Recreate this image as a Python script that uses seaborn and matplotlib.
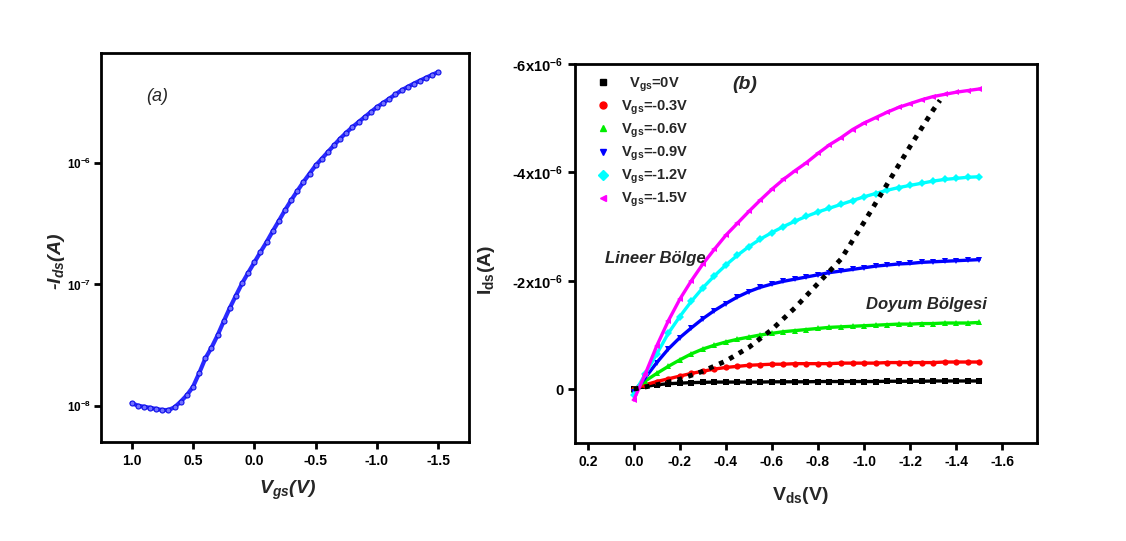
import numpy as np
import pandas as pd
import matplotlib
matplotlib.use("Agg")
import matplotlib.pyplot as plt
from matplotlib.lines import Line2D
from matplotlib.ticker import FixedLocator, NullLocator
import seaborn as sns

# ---- panel (a): transfer curve, -Ids vs Vgs (log) ----
VGS = [1.0, 0.95, 0.9, 0.85, 0.8, 0.75, 0.7, 0.65, 0.6, 0.55,
       0.5, 0.45, 0.4, 0.35, 0.3, 0.25, 0.2, 0.15, 0.1, 0.05,
       0.0, -0.05, -0.1, -0.15, -0.2, -0.25, -0.3, -0.35, -0.4, -0.45,
       -0.5, -0.55, -0.6, -0.65, -0.7, -0.75, -0.8, -0.85, -0.9, -0.95,
       -1.0, -1.05, -1.1, -1.15, -1.2, -1.25, -1.3, -1.35, -1.4, -1.45, -1.5]
IDS_A = [1.05e-8, 1.0e-8, 0.98e-8, 0.96e-8, 0.94e-8, 0.92e-8, 0.92e-8, 0.97e-8, 1.08e-8, 1.22e-8,
         1.43e-8, 1.85e-8, 2.45e-8, 3.0e-8, 3.8e-8, 4.95e-8, 6.4e-8, 8.1e-8, 1.02e-7, 1.25e-7,
         1.52e-7, 1.85e-7, 2.24e-7, 2.75e-7, 3.35e-7, 4.1e-7, 4.95e-7, 5.9e-7, 7.0e-7, 8.2e-7,
         9.6e-7, 1.09e-6, 1.24e-6, 1.41e-6, 1.6e-6, 1.79e-6, 1.99e-6, 2.19e-6, 2.41e-6, 2.65e-6,
         2.91e-6, 3.15e-6, 3.41e-6, 3.7e-6, 4.0e-6, 4.27e-6, 4.54e-6, 4.81e-6, 5.08e-6, 5.37e-6, 5.66e-6]

# ---- panel (b): output curves, Ids (uA) vs Vds ----
VDS = [0.0, -0.05, -0.1, -0.15, -0.2, -0.25, -0.3, -0.35, -0.4, -0.45,
       -0.5, -0.55, -0.6, -0.65, -0.7, -0.75, -0.8, -0.85, -0.9, -0.95,
       -1.0, -1.05, -1.1, -1.15, -1.2, -1.25, -1.3, -1.35, -1.4, -1.45, -1.5]
I_VG_0 = [0.0, -0.05, -0.08, -0.1, -0.11, -0.12, -0.125, -0.13, -0.13, -0.13,
          -0.13, -0.13, -0.135, -0.135, -0.135, -0.135, -0.14, -0.14, -0.14, -0.14,
          -0.14, -0.14, -0.145, -0.145, -0.145, -0.145, -0.15, -0.15, -0.15, -0.15, -0.15]
I_VG_03 = [0.0, -0.08, -0.14, -0.19, -0.24, -0.29, -0.33, -0.37, -0.4, -0.42,
           -0.44, -0.45, -0.46, -0.46, -0.47, -0.47, -0.47, -0.47, -0.48, -0.48,
           -0.48, -0.48, -0.49, -0.49, -0.49, -0.49, -0.49, -0.5, -0.5, -0.5, -0.5]
I_VG_06 = [0.02, -0.15, -0.29, -0.42, -0.54, -0.65, -0.74, -0.81, -0.87, -0.92,
           -0.96, -1.0, -1.03, -1.06, -1.08, -1.1, -1.12, -1.14, -1.15, -1.16,
           -1.17, -1.18, -1.19, -1.2, -1.2, -1.21, -1.21, -1.22, -1.22, -1.22, -1.23]
I_VG_09 = [0.05, -0.21, -0.49, -0.74, -0.95, -1.13, -1.3, -1.45, -1.58, -1.7,
           -1.8, -1.88, -1.94, -1.99, -2.03, -2.07, -2.11, -2.15, -2.18, -2.21,
           -2.24, -2.27, -2.29, -2.31, -2.32, -2.34, -2.35, -2.36, -2.37, -2.38, -2.39]
I_VG_12 = [0.1, -0.28, -0.65, -1.03, -1.34, -1.62, -1.87, -2.09, -2.29, -2.47,
           -2.63, -2.77, -2.89, -3.0, -3.1, -3.19, -3.27, -3.34, -3.41, -3.48,
           -3.55, -3.61, -3.67, -3.72, -3.76, -3.8, -3.84, -3.87, -3.89, -3.91, -3.92]
I_VG_15 = [0.2, -0.28, -0.8, -1.26, -1.66, -2.0, -2.31, -2.58, -2.84, -3.06,
           -3.28, -3.49, -3.69, -3.87, -4.03, -4.18, -4.35, -4.51, -4.64, -4.79,
           -4.91, -5.01, -5.11, -5.2, -5.27, -5.34, -5.4, -5.44, -5.48, -5.51, -5.54]

# saturation boundary (dotted)
VDS_SAT = [0.0, -0.1, -0.2, -0.3, -0.4, -0.5, -0.6, -0.7, -0.8, -0.9,
           -1.0, -1.1, -1.2, -1.3, -1.33]
I_SAT = [0.0, -0.08, -0.18, -0.33, -0.52, -0.77, -1.1, -1.5, -1.95, -2.4,
         -3.08, -3.78, -4.48, -5.15, -5.33]

SERIES = ["0V", "-0.3V", "-0.6V", "-0.9V", "-1.2V", "-1.5V"]
SERIES_I = [I_VG_0, I_VG_03, I_VG_06, I_VG_09, I_VG_12, I_VG_15]
COLORS = ["#000000", "#ff0000", "#00ee00", "#0000ff", "#00ffff", "#ff00ff"]
MARKERS = ["s", "o", "^", "v", "D", "<"]

sns.set_style("ticks")
plt.rcParams["font.family"] = ["Liberation Sans", "DejaVu Sans"]
plt.rcParams["font.weight"] = "bold"
plt.rcParams["mathtext.default"] = "regular"

fig = plt.figure(figsize=(11.26, 5.41), dpi=100)
ax1 = fig.add_axes([0.0897, 0.183, 0.3268, 0.719])
ax2 = fig.add_axes([0.5107, 0.1806, 0.410, 0.701])

# panel (a)
dfa = pd.DataFrame({"Vgs": VGS, "Ids": IDS_A})
sns.lineplot(data=dfa, x="Vgs", y="Ids", ax=ax1, sort=False, color="#2a2aff",
             lw=3.0, marker="o", markersize=3.6, markerfacecolor="#7070ff",
             markeredgecolor="#1010e8", markeredgewidth=0.8)
ax1.set_yscale("log")
ax1.set_xlim(1.25, -1.75)
ax1.set_ylim(10 ** -8.3, 10 ** -5.09)
ax1.yaxis.set_major_locator(FixedLocator([1e-8, 1e-7, 1e-6]))
ax1.yaxis.set_minor_locator(NullLocator())
ax1.set_yticklabels(["10$^{-8}$", "10$^{-7}$", "10$^{-6}$"], fontsize=8.5)
ax1.set_xticks([1.0, 0.5, 0.0, -0.5, -1.0, -1.5])
ax1.set_xticklabels(["1.0", "0.5", "0.0", "-0.5", "-1.0", "-1.5"], fontsize=10)
ax1.set_xlabel("")
ax1.set_ylabel("")

# panel (b)
rows = []
for name, vals in zip(SERIES, SERIES_I):
    for v, i in zip(VDS, vals):
        rows.append({"Vds": v, "Ids": i * 1e-6, "series": name})
dfb = pd.DataFrame(rows)
sns.lineplot(data=dfb, x="Vds", y="Ids", hue="series", style="series", ax=ax2,
             palette=dict(zip(SERIES, COLORS)), markers=dict(zip(SERIES, MARKERS)),
             dashes=False, sort=False, lw=2.4, markersize=4.5, markeredgewidth=0,
             legend=False)
dfs = pd.DataFrame({"Vds": VDS_SAT, "Ids": np.array(I_SAT) * 1e-6})
sns.lineplot(data=dfs, x="Vds", y="Ids", ax=ax2, sort=False, color="black", lw=3.5)
ax2.lines[-1].set_linestyle((0, (1, 1.3)))
ax2.lines[-1].set_dash_capstyle("butt")

ax2.set_xlim(0.255, -1.75)
ax2.set_ylim(1.0e-6, -6.0e-6)
ax2.set_xticks([0.2, 0.0, -0.2, -0.4, -0.6, -0.8, -1.0, -1.2, -1.4, -1.6])
ax2.set_xticklabels(["0.2", "0.0", "-0.2", "-0.4", "-0.6", "-0.8", "-1.0",
                     "-1.2", "-1.4", "-1.6"], fontsize=10)
ax2.set_yticks([-6e-6, -4e-6, -2e-6, 0])
ax2.set_yticklabels(["-6x10$^{-6}$", "-4x10$^{-6}$", "-2x10$^{-6}$", "0"], fontsize=10.5)
ax2.set_xlabel("")
ax2.set_ylabel("")

handles = [Line2D([0], [0], marker=m, color=c, ls="none", markersize=5)
           for m, c in zip(MARKERS, COLORS)]
labels = ["  V$_{gs}$=" + s for s in SERIES[:1]] + ["V$_{gs}$=" + s for s in SERIES[1:]]
ax2.legend(handles, labels, loc="upper left", bbox_to_anchor=(0.045, 0.97),
           frameon=False, borderpad=0, borderaxespad=0, handlelength=1.0,
           handletextpad=0.75, labelspacing=0.33,
           prop={"size": 10.5, "weight": "bold"})

for ax in (ax1, ax2):
    for s in ax.spines.values():
        s.set_linewidth(2)
        s.set_color("black")
    ax.tick_params(direction="out", length=5, width=2, colors="black")
ax1.tick_params(axis="y", pad=2)

fig.text(0.0506, 0.516, "-$I_{ds}$(A)", rotation=90, ha="center", va="center",
         fontsize=14, style="italic")
fig.text(0.255, 0.094, "$V_{gs}$(V)", ha="center", va="center", fontsize=14, style="italic")
fig.text(0.1394, 0.821, "(a)", ha="center", va="center", fontsize=13,
         style="italic", weight="normal")
fig.text(0.4325, 0.501, "I$_{ds}$(A)", rotation=90, ha="center", va="center", fontsize=14)
fig.text(0.7105, 0.085, "V$_{ds}$(V)", ha="center", va="center", fontsize=14)
fig.text(0.6616, 0.843, "(b)", ha="center", va="center", fontsize=14, style="italic")
fig.text(0.5817, 0.523, "Lineer Bölge", ha="center", va="center", fontsize=12, style="italic")
fig.text(0.8224, 0.438, "Doyum Bölgesi", ha="center", va="center", fontsize=12, style="italic")

fig.savefig("out.png", dpi=100)
